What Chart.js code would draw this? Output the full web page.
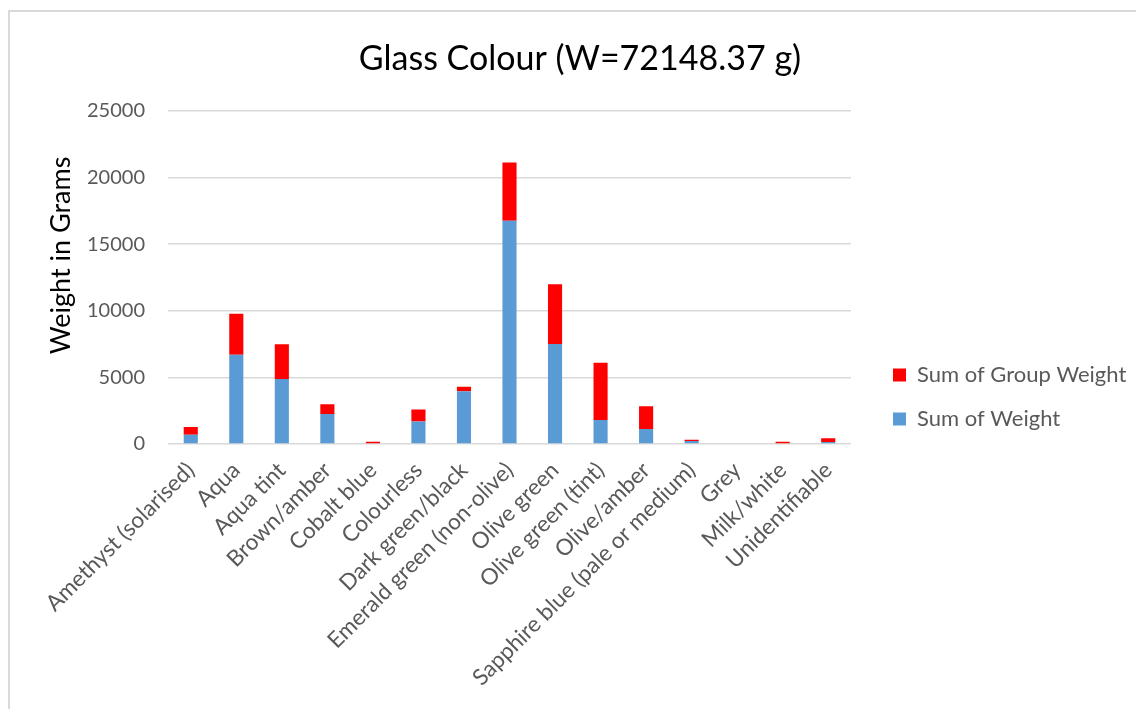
<!DOCTYPE html>
<html>
<head>
<meta charset="utf-8">
<script src="https://cdn.jsdelivr.net/npm/chart.js@4.4.1/dist/chart.umd.min.js"></script>
<style>
  html, body { margin: 0; padding: 0; background: #fff; overflow: hidden; }
  #frame {
    position: absolute; left: 8px; top: 10px;
    border-left: 2px solid #d9d9d9; border-top: 2px solid #d9d9d9;
    width: 1140px; height: 700px;
  }
  #frame canvas { display: block; }
</style>
</head>
<body>
<div id="frame"><canvas id="chart" width="1140" height="700"></canvas></div>
<script>
// Glass colour categories
const categories = [
  'Amethyst (solarised)', 'Aqua', 'Aqua tint', 'Brown/amber', 'Cobalt blue',
  'Colourless', 'Dark green/black', 'Emerald green (non-olive)', 'Olive green',
  'Olive green (tint)', 'Olive/amber', 'Sapphire blue (pale or medium)', 'Grey',
  'Milk/white', 'Unidentifiable'
];

// Sum of Weight (g), bottom segment of each stack
const sumOfWeight = [700, 6700, 4880, 2250, 60, 1680, 3960, 16750, 7500, 1800, 1130, 230, 0, 50, 150];

// Sum of Group Weight (g), stacked on top
const sumOfGroupWeight = [575, 3080, 2600, 730, 110, 900, 330, 4380, 4480, 4300, 1700, 80, 0, 120, 280];

// Value axis ticks
const yTicks = [0, 5000, 10000, 15000, 20000, 25000];

const FONT = 'Lato, "Open Sans", sans-serif';
const GREY_TEXT = '#595959';
const AXIS_TITLE = 'Weight in Grams';
const LEGEND_WIDTH = 299;

// Gives the legend a fixed-width column on the right of the plot
const legendColumn = {
  id: 'legendColumn',
  afterInit(chart) {
    const lg = chart.legend;
    if (!lg) return;
    const fit = lg.fit;
    lg.fit = function () {
      fit.call(this);
      this.width = LEGEND_WIDTH;
    };
  },
  afterLayout(chart) {
    const lg = chart.legend;
    if (lg) { lg.left += 20; lg.right += 20; lg.top += 35; lg.bottom += 35; }
  }
};

// Value axis title, drawn rotated to the left of the tick labels
const axisTitle = {
  id: 'axisTitle',
  afterDraw(chart) {
    const { ctx, chartArea } = chart;
    ctx.save();
    ctx.translate(51, (chartArea.top + chartArea.bottom) / 2 - 22);
    ctx.rotate(-Math.PI / 2);
    ctx.font = '27px ' + FONT;
    ctx.fillStyle = '#000';
    ctx.textAlign = 'center';
    ctx.textBaseline = 'middle';
    ctx.fillText(AXIS_TITLE, 0, 0);
    ctx.restore();
  }
};

new Chart(document.getElementById('chart'), {
  type: 'bar',
  data: {
    labels: categories,
    datasets: [
      {
        label: 'Sum of Weight',
        data: sumOfWeight,
        backgroundColor: '#5b9bd5',
        borderWidth: 0,
        categoryPercentage: 1,
        barPercentage: 0.31
      },
      {
        label: 'Sum of Group Weight',
        data: sumOfGroupWeight,
        backgroundColor: '#ff0000',
        borderWidth: 0,
        categoryPercentage: 1,
        barPercentage: 0.31
      }
    ]
  },
  options: {
    responsive: false,
    animation: false,
    layout: { padding: 0 },
    plugins: {
      title: {
        display: true,
        text: 'Glass Colour (W=72148.37 g)',
        color: '#000',
        font: { family: FONT, size: 34, weight: 'normal', lineHeight: 1.2 },
        padding: { top: 27, bottom: 31 }
      },
      legend: {
        position: 'right',
        reverse: true,
        labels: {
          color: GREY_TEXT,
          font: { family: FONT, size: 22 },
          boxWidth: 13,
          boxHeight: 13,
          padding: 22
        }
      },
      tooltip: { enabled: false }
    },
    scales: {
      x: {
        stacked: true,
        grid: { display: false },
        border: { display: false },
        ticks: {
          autoSkip: false,
          maxRotation: 45,
          minRotation: 45,
          color: GREY_TEXT,
          padding: 5,
          font: { family: FONT, size: 22.5 }
        },
        afterFit(scale) { scale.height = 268; }
      },
      y: {
        stacked: true,
        min: 0,
        max: 25000,
        afterBuildTicks(scale) { scale.ticks = yTicks.map(v => ({ value: v })); },
        grid: { color: '#d9d9d9', lineWidth: 1.5, drawTicks: false },
        border: { display: false },
        ticks: {
          color: GREY_TEXT,
          padding: 23,
          font: { family: FONT, size: 20 },
          callback: (v) => String(v)
        },
        afterFit(scale) { scale.width = 158; }
      }
    }
  },
  plugins: [legendColumn, axisTitle]
});
</script>
</body>
</html>
